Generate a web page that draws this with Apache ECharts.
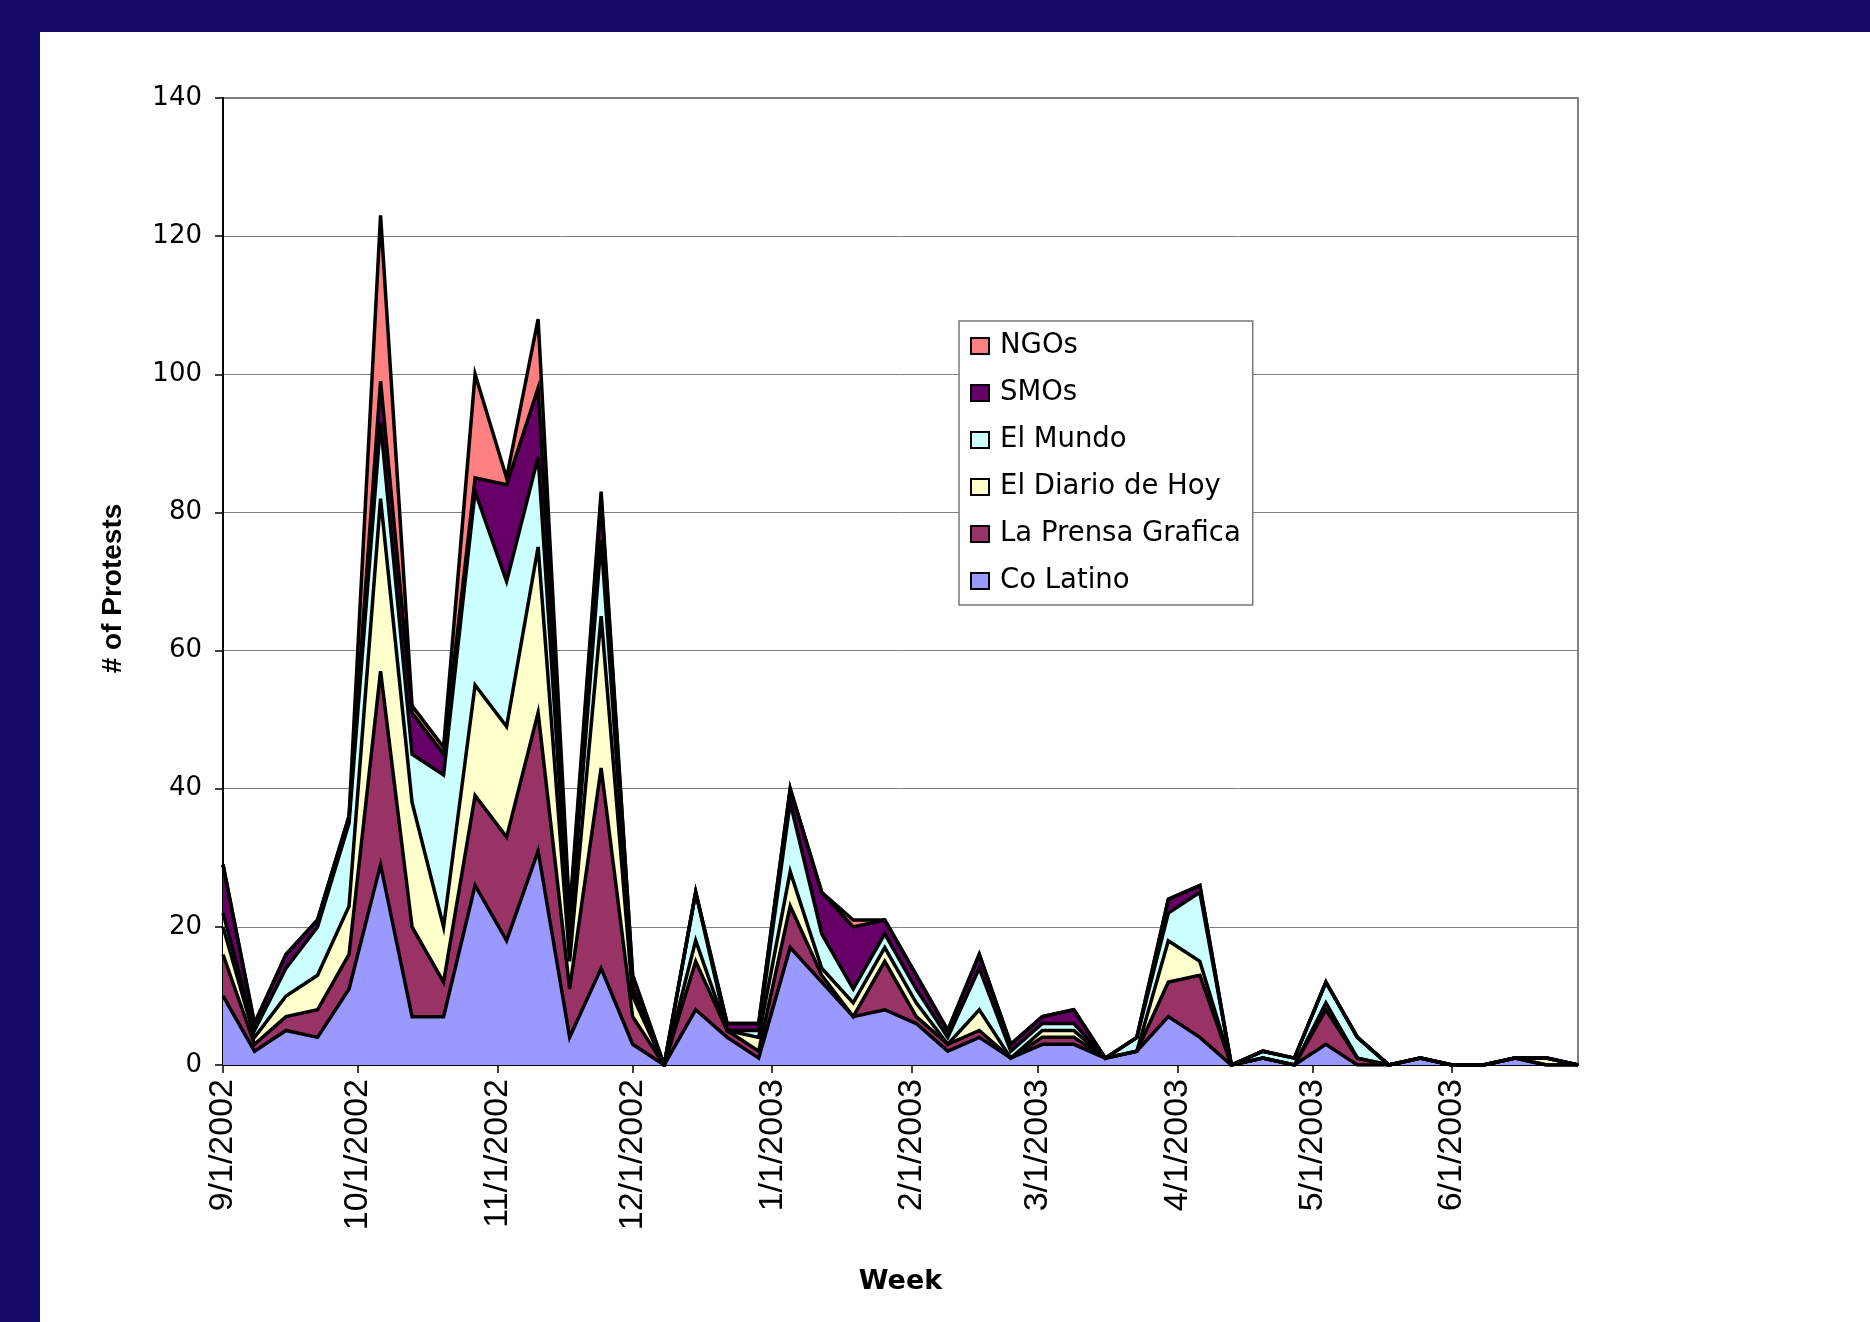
<!DOCTYPE html>
<html>
<head>
<meta charset="utf-8">
<title>Weekly protests by source</title>
<script src="https://cdn.jsdelivr.net/npm/echarts@6/dist/echarts.min.js"></script>
<style>
  html, body { margin: 0; padding: 0; width: 1870px; height: 1322px; overflow: hidden; background: #150A68; }
  #chart { position: absolute; left: 40px; top: 32px; width: 1830px; height: 1290px; background: #ffffff; }
</style>
</head>
<body>
<div id="chart"></div>
<script>
// Week starting dates (Sundays)
const weeks = [
  '9/1/2002', '9/8/2002', '9/15/2002', '9/22/2002', '9/29/2002',
  '10/6/2002', '10/13/2002', '10/20/2002', '10/27/2002',
  '11/3/2002', '11/10/2002', '11/17/2002', '11/24/2002',
  '12/1/2002', '12/8/2002', '12/15/2002', '12/22/2002', '12/29/2002',
  '1/5/2003', '1/12/2003', '1/19/2003', '1/26/2003',
  '2/2/2003', '2/9/2003', '2/16/2003', '2/23/2003',
  '3/2/2003', '3/9/2003', '3/16/2003', '3/23/2003', '3/30/2003',
  '4/6/2003', '4/13/2003', '4/20/2003', '4/27/2003',
  '5/4/2003', '5/11/2003', '5/18/2003', '5/25/2003',
  '6/1/2003', '6/8/2003', '6/15/2003', '6/22/2003', '6/29/2003'
];

// Protest counts per week, one array per source
const coLatino  = [10, 2, 5, 4, 11, 29, 7, 7, 26, 18, 31, 4, 14, 3, 0, 8, 4, 1, 17, 12, 7, 8, 6, 2, 4, 1, 3, 3, 1, 2, 7, 4, 0, 1, 0, 3, 0, 0, 1, 0, 0, 1, 0, 0];
const laPrensa  = [6, 1, 2, 4, 5, 28, 13, 5, 13, 15, 20, 7, 29, 4, 0, 7, 1, 1, 6, 1, 0, 7, 1, 1, 1, 0, 1, 1, 0, 0, 5, 9, 0, 0, 0, 5, 1, 0, 0, 0, 0, 0, 0, 0];
const elDiario  = [4, 1, 3, 5, 7, 25, 18, 8, 16, 16, 24, 4, 22, 3, 0, 3, 0, 2, 5, 1, 2, 2, 2, 0, 3, 0, 1, 1, 0, 0, 6, 2, 0, 0, 0, 1, 0, 0, 0, 0, 0, 0, 1, 0];
const elMundo   = [2, 1, 4, 7, 12, 11, 7, 22, 28, 21, 13, 3, 11, 1, 0, 7, 0, 1, 10, 5, 2, 2, 2, 1, 6, 1, 1, 1, 0, 2, 4, 10, 0, 1, 1, 3, 3, 0, 0, 0, 0, 0, 0, 0];
const smos      = [7, 1, 2, 1, 1, 6, 6, 3, 2, 14, 10, 3, 6, 2, 0, 0, 1, 1, 2, 6, 9, 2, 2, 1, 2, 1, 1, 2, 0, 0, 2, 1, 0, 0, 0, 0, 0, 0, 0, 0, 0, 0, 0, 0];
const ngos      = [0, 0, 0, 0, 0, 24, 1, 1, 15, 1, 10, 1, 1, 0, 0, 0, 0, 0, 0, 0, 1, 0, 0, 0, 0, 0, 0, 0, 0, 0, 0, 0, 0, 0, 0, 0, 0, 0, 0, 0, 0, 0, 0, 0];

// Value axis
const yMin = 0, yMax = 140, yStep = 20;

const DAY = 86400000;
function parseDate(s) {
  const p = s.split('/').map(Number);
  return new Date(p[2], p[0] - 1, p[1]).getTime();
}
// Month-start labels written as M/D/YYYY
function monthLabel(v) {
  const d = new Date(v);
  if (d.getDate() !== 1 || d.getHours() !== 0) return '';
  return (d.getMonth() + 1) + '/1/' + d.getFullYear();
}

const weekTimes = weeks.map(parseDate);
const toPairs = arr => arr.map((v, i) => [weekTimes[i], v]);

// Stacking order bottom -> top
const layers = [
  { name: 'Co Latino',         values: coLatino, color: '#9999FF' },
  { name: 'La Prensa Grafica', values: laPrensa, color: '#993366' },
  { name: 'El Diario de Hoy',  values: elDiario, color: '#FFFFCC' },
  { name: 'El Mundo',          values: elMundo,  color: '#CCFFFF' },
  { name: 'SMOs',              values: smos,     color: '#660066' },
  { name: 'NGOs',              values: ngos,     color: '#FF8080' }
];

const series = [];
// filled bands
layers.forEach(l => {
  series.push({
    type: 'line',
    name: l.name,
    stack: 'fill',
    data: toPairs(l.values),
    symbol: 'none',
    z: 2,
    itemStyle: { color: l.color },
    lineStyle: { opacity: 0, width: 0 },
    areaStyle: { color: l.color, opacity: 1 },
    emphasis: { disabled: true },
    silent: true
  });
});
// black outlines of each band, drawn above all fills
layers.forEach(l => {
  series.push({
    type: 'line',
    name: l.name,
    stack: 'edge',
    data: toPairs(l.values),
    symbol: 'none',
    z: 3,
    lineStyle: { color: '#000000', width: 3.5, join: 'miter', miterLimit: 6 },
    emphasis: { disabled: true },
    silent: true
  });
});

const chart = echarts.init(document.getElementById('chart'));
chart.setOption({
  animation: false,
  backgroundColor: '#ffffff',
  grid: {
    left: 183, right: 292, top: 66, bottom: 257,
    show: true, borderColor: '#808080', borderWidth: 2, backgroundColor: 'transparent'
  },
  legend: {
    orient: 'vertical',
    left: 919, top: 289,
    padding: [11, 12, 10, 11],
    itemGap: 19,
    itemWidth: 18, itemHeight: 16,
    icon: 'rect',
    backgroundColor: '#ffffff',
    borderColor: '#777777', borderWidth: 1.5, borderRadius: 0,
    itemStyle: { borderColor: '#000000', borderWidth: 2 },
    textStyle: { fontFamily: 'DejaVu Sans', fontSize: 27.5, color: '#000000', padding: [0, 0, 0, 6] },
    data: layers.slice().reverse().map(l => ({ name: l.name, itemStyle: { color: l.color } })),
    z: 10
  },
  xAxis: {
    type: 'time',
    min: weekTimes[0],
    max: weekTimes[weekTimes.length - 1],
    splitNumber: 10,
    minInterval: 28 * DAY,
    maxInterval: 31 * DAY,
    name: 'Week',
    nameLocation: 'middle',
    nameGap: 203,
    nameTextStyle: { fontFamily: 'DejaVu Sans', fontWeight: 'bold', fontSize: 27, color: '#000000' },
    splitLine: { show: false },
    axisLine: { show: true, lineStyle: { color: '#000000', width: 2 } },
    axisTick: { show: true, length: 8, lineStyle: { color: '#000000', width: 1.5 } },
    axisLabel: {
      rotate: 90,
      margin: 14,
      showMaxLabel: false,
      fontFamily: 'Liberation Sans',
      fontSize: 34,
      color: '#000000',
      formatter: v => monthLabel(v)
    }
  },
  yAxis: {
    type: 'value',
    min: yMin, max: yMax, interval: yStep,
    name: '# of Protests',
    nameLocation: 'middle',
    nameRotate: 90,
    nameGap: 96,
    nameTextStyle: { fontFamily: 'Liberation Sans', fontWeight: 'bold', fontSize: 28, color: '#000000', padding: [0, 14, 0, 0] },
    axisLine: { show: true, lineStyle: { color: '#000000', width: 2 } },
    axisTick: { show: true, length: 8, lineStyle: { color: '#000000', width: 1.5 } },
    axisLabel: { margin: 21, fontFamily: 'DejaVu Sans', fontSize: 26, color: '#000000' },
    splitLine: { show: true, lineStyle: { color: '#808080', width: 1 } }
  },
  series: series
});
</script>
</body>
</html>
